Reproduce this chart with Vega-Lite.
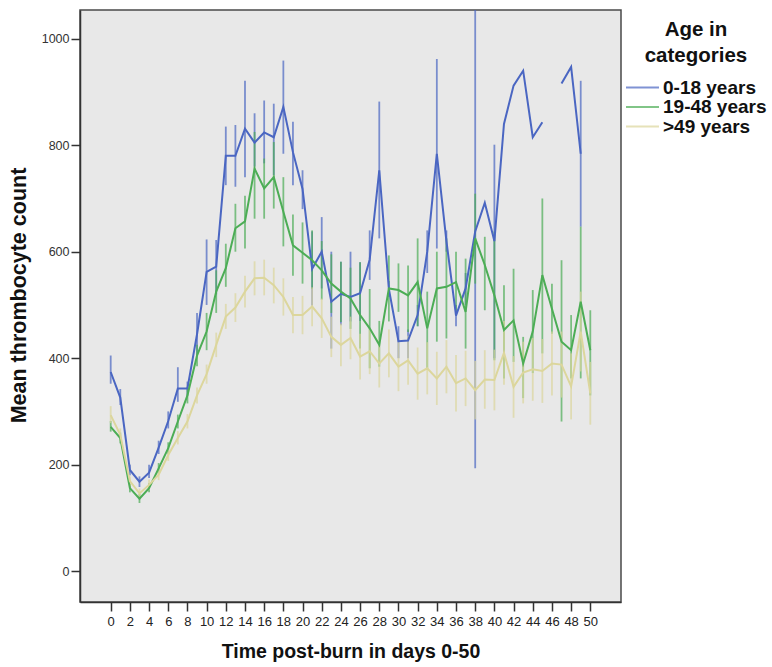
{
  "$schema": "https://vega.github.io/schema/vega-lite/v6.json",
  "autosize": {"type": "none"},
  "padding": {"left": 80, "top": 10, "right": 151, "bottom": 65},
  "width": 541,
  "height": 592,
  "background": "white",
  "config": {
    "font": "Liberation Sans",
    "view": {"fill": "#e8e8e8", "stroke": "#4a4a4a", "strokeWidth": 1.5},
    "axis": {"grid": false}
  },
  "data": {
    "values": [
      {"day": 0, "group": "0-18 years", "mean": 374, "lo": 352, "hi": 405},
      {"day": 1, "group": "0-18 years", "mean": 326, "lo": 312, "hi": 342},
      {"day": 2, "group": "0-18 years", "mean": 190, "lo": 180, "hi": 200},
      {"day": 3, "group": "0-18 years", "mean": 168, "lo": 158, "hi": 178},
      {"day": 4, "group": "0-18 years", "mean": 185, "lo": 175, "hi": 200},
      {"day": 5, "group": "0-18 years", "mean": 232, "lo": 220, "hi": 245},
      {"day": 6, "group": "0-18 years", "mean": 282, "lo": 268, "hi": 300},
      {"day": 7, "group": "0-18 years", "mean": 343, "lo": 318, "hi": 383},
      {"day": 8, "group": "0-18 years", "mean": 343, "lo": 330, "hi": 356},
      {"day": 9, "group": "0-18 years", "mean": 445, "lo": 405, "hi": 485},
      {"day": 10, "group": "0-18 years", "mean": 562, "lo": 500, "hi": 623},
      {"day": 11, "group": "0-18 years", "mean": 572, "lo": 520, "hi": 622},
      {"day": 12, "group": "0-18 years", "mean": 780, "lo": 725, "hi": 835},
      {"day": 13, "group": "0-18 years", "mean": 780, "lo": 722, "hi": 838},
      {"day": 14, "group": "0-18 years", "mean": 831, "lo": 740, "hi": 921},
      {"day": 15, "group": "0-18 years", "mean": 805, "lo": 760, "hi": 860},
      {"day": 16, "group": "0-18 years", "mean": 824, "lo": 766, "hi": 884},
      {"day": 17, "group": "0-18 years", "mean": 815, "lo": 744, "hi": 878},
      {"day": 18, "group": "0-18 years", "mean": 872, "lo": 784, "hi": 959},
      {"day": 19, "group": "0-18 years", "mean": 787, "lo": 725, "hi": 844},
      {"day": 20, "group": "0-18 years", "mean": 718, "lo": 680, "hi": 753},
      {"day": 21, "group": "0-18 years", "mean": 568, "lo": 499, "hi": 638},
      {"day": 22, "group": "0-18 years", "mean": 600, "lo": 531, "hi": 665},
      {"day": 23, "group": "0-18 years", "mean": 506, "lo": 418, "hi": 600},
      {"day": 24, "group": "0-18 years", "mean": 521, "lo": 462, "hi": 581},
      {"day": 25, "group": "0-18 years", "mean": 515, "lo": 469, "hi": 600},
      {"day": 26, "group": "0-18 years", "mean": 522, "lo": 470, "hi": 580},
      {"day": 27, "group": "0-18 years", "mean": 585, "lo": 547, "hi": 640},
      {"day": 28, "group": "0-18 years", "mean": 753, "lo": 625, "hi": 882},
      {"day": 29, "group": "0-18 years", "mean": 530, "lo": 515, "hi": 545},
      {"day": 30, "group": "0-18 years", "mean": 432, "lo": 400, "hi": 460},
      {"day": 31, "group": "0-18 years", "mean": 433, "lo": 400, "hi": 454},
      {"day": 32, "group": "0-18 years", "mean": 481, "lo": 460, "hi": 500},
      {"day": 33, "group": "0-18 years", "mean": 600, "lo": 560, "hi": 640},
      {"day": 34, "group": "0-18 years", "mean": 784, "lo": 606, "hi": 962},
      {"day": 35, "group": "0-18 years", "mean": 620, "lo": 600, "hi": 640},
      {"day": 36, "group": "0-18 years", "mean": 480, "lo": 460, "hi": 500},
      {"day": 37, "group": "0-18 years", "mean": 531, "lo": 500, "hi": 560},
      {"day": 38, "group": "0-18 years", "mean": 638, "lo": 193, "hi": 1100},
      {"day": 39, "group": "0-18 years", "mean": 692, "lo": null, "hi": null},
      {"day": 40, "group": "0-18 years", "mean": 620, "lo": 400, "hi": 801},
      {"day": 41, "group": "0-18 years", "mean": 840, "lo": null, "hi": null},
      {"day": 42, "group": "0-18 years", "mean": 912, "lo": null, "hi": null},
      {"day": 43, "group": "0-18 years", "mean": 940, "lo": null, "hi": null},
      {"day": 44, "group": "0-18 years", "mean": 815, "lo": null, "hi": null},
      {"day": 45, "group": "0-18 years", "mean": 843, "lo": null, "hi": null},
      {"day": 46, "group": "0-18 years", "mean": null, "lo": null, "hi": null},
      {"day": 47, "group": "0-18 years", "mean": 916, "lo": null, "hi": null},
      {"day": 48, "group": "0-18 years", "mean": 947, "lo": null, "hi": null},
      {"day": 49, "group": "0-18 years", "mean": 784, "lo": 647, "hi": 921},

      {"day": 0, "group": "19-48 years", "mean": 271, "lo": 262, "hi": 282},
      {"day": 1, "group": "19-48 years", "mean": 250, "lo": 240, "hi": 260},
      {"day": 2, "group": "19-48 years", "mean": 156, "lo": 148, "hi": 164},
      {"day": 3, "group": "19-48 years", "mean": 136, "lo": 128, "hi": 145},
      {"day": 4, "group": "19-48 years", "mean": 156, "lo": 148, "hi": 165},
      {"day": 5, "group": "19-48 years", "mean": 193, "lo": 183, "hi": 203},
      {"day": 6, "group": "19-48 years", "mean": 231, "lo": 220, "hi": 242},
      {"day": 7, "group": "19-48 years", "mean": 281, "lo": 268, "hi": 294},
      {"day": 8, "group": "19-48 years", "mean": 330, "lo": 315, "hi": 345},
      {"day": 9, "group": "19-48 years", "mean": 405, "lo": 385, "hi": 425},
      {"day": 10, "group": "19-48 years", "mean": 450, "lo": 415, "hi": 485},
      {"day": 11, "group": "19-48 years", "mean": 525, "lo": 485, "hi": 565},
      {"day": 12, "group": "19-48 years", "mean": 569, "lo": 534, "hi": 615},
      {"day": 13, "group": "19-48 years", "mean": 644, "lo": 600, "hi": 690},
      {"day": 14, "group": "19-48 years", "mean": 657, "lo": 606, "hi": 705},
      {"day": 15, "group": "19-48 years", "mean": 756, "lo": 662, "hi": 825},
      {"day": 16, "group": "19-48 years", "mean": 719, "lo": 662, "hi": 775},
      {"day": 17, "group": "19-48 years", "mean": 740, "lo": 681, "hi": 806},
      {"day": 18, "group": "19-48 years", "mean": 675, "lo": 610, "hi": 740},
      {"day": 19, "group": "19-48 years", "mean": 612, "lo": 555, "hi": 670},
      {"day": 20, "group": "19-48 years", "mean": 598, "lo": 540, "hi": 655},
      {"day": 21, "group": "19-48 years", "mean": 584, "lo": 530, "hi": 640},
      {"day": 22, "group": "19-48 years", "mean": 565, "lo": 510, "hi": 620},
      {"day": 23, "group": "19-48 years", "mean": 540, "lo": 485, "hi": 595},
      {"day": 24, "group": "19-48 years", "mean": 525, "lo": 468, "hi": 581},
      {"day": 25, "group": "19-48 years", "mean": 512, "lo": 455, "hi": 570},
      {"day": 26, "group": "19-48 years", "mean": 481, "lo": 418, "hi": 580},
      {"day": 27, "group": "19-48 years", "mean": 456, "lo": 381, "hi": 530},
      {"day": 28, "group": "19-48 years", "mean": 425, "lo": 384, "hi": 470},
      {"day": 29, "group": "19-48 years", "mean": 531, "lo": 469, "hi": 593},
      {"day": 30, "group": "19-48 years", "mean": 528, "lo": 487, "hi": 578},
      {"day": 31, "group": "19-48 years", "mean": 518, "lo": 449, "hi": 574},
      {"day": 32, "group": "19-48 years", "mean": 543, "lo": 460, "hi": 625},
      {"day": 33, "group": "19-48 years", "mean": 456, "lo": 378, "hi": 525},
      {"day": 34, "group": "19-48 years", "mean": 531, "lo": 431, "hi": 600},
      {"day": 35, "group": "19-48 years", "mean": 534, "lo": 437, "hi": 625},
      {"day": 36, "group": "19-48 years", "mean": 543, "lo": 481, "hi": 600},
      {"day": 37, "group": "19-48 years", "mean": 487, "lo": 418, "hi": 587},
      {"day": 38, "group": "19-48 years", "mean": 625, "lo": 540, "hi": 709},
      {"day": 39, "group": "19-48 years", "mean": 575, "lo": 490, "hi": 628},
      {"day": 40, "group": "19-48 years", "mean": 518, "lo": 396, "hi": 638},
      {"day": 41, "group": "19-48 years", "mean": 453, "lo": 362, "hi": 537},
      {"day": 42, "group": "19-48 years", "mean": 471, "lo": 393, "hi": 568},
      {"day": 43, "group": "19-48 years", "mean": 390, "lo": 325, "hi": 440},
      {"day": 44, "group": "19-48 years", "mean": 450, "lo": 372, "hi": 528},
      {"day": 45, "group": "19-48 years", "mean": 556, "lo": 409, "hi": 700},
      {"day": 46, "group": "19-48 years", "mean": 493, "lo": 446, "hi": 540},
      {"day": 47, "group": "19-48 years", "mean": 431, "lo": 281, "hi": 584},
      {"day": 48, "group": "19-48 years", "mean": 415, "lo": 362, "hi": 481},
      {"day": 49, "group": "19-48 years", "mean": 506, "lo": 362, "hi": 647},
      {"day": 50, "group": "19-48 years", "mean": 415, "lo": 330, "hi": 490},

      {"day": 0, "group": ">49 years", "mean": 293, "lo": 278, "hi": 310},
      {"day": 1, "group": ">49 years", "mean": 256, "lo": 245, "hi": 268},
      {"day": 2, "group": ">49 years", "mean": 169, "lo": 160, "hi": 178},
      {"day": 3, "group": ">49 years", "mean": 146, "lo": 138, "hi": 155},
      {"day": 4, "group": ">49 years", "mean": 162, "lo": 153, "hi": 172},
      {"day": 5, "group": ">49 years", "mean": 181, "lo": 171, "hi": 192},
      {"day": 6, "group": ">49 years", "mean": 218, "lo": 207, "hi": 230},
      {"day": 7, "group": ">49 years", "mean": 250, "lo": 238, "hi": 263},
      {"day": 8, "group": ">49 years", "mean": 281, "lo": 268, "hi": 295},
      {"day": 9, "group": ">49 years", "mean": 330, "lo": 315, "hi": 345},
      {"day": 10, "group": ">49 years", "mean": 370, "lo": 352, "hi": 388},
      {"day": 11, "group": ">49 years", "mean": 425, "lo": 402, "hi": 448},
      {"day": 12, "group": ">49 years", "mean": 478, "lo": 455, "hi": 502},
      {"day": 13, "group": ">49 years", "mean": 495, "lo": 468, "hi": 522},
      {"day": 14, "group": ">49 years", "mean": 525, "lo": 495, "hi": 555},
      {"day": 15, "group": ">49 years", "mean": 550, "lo": 518, "hi": 582},
      {"day": 16, "group": ">49 years", "mean": 551, "lo": 518, "hi": 585},
      {"day": 17, "group": ">49 years", "mean": 537, "lo": 503, "hi": 570},
      {"day": 18, "group": ">49 years", "mean": 515, "lo": 480, "hi": 550},
      {"day": 19, "group": ">49 years", "mean": 481, "lo": 447, "hi": 515},
      {"day": 20, "group": ">49 years", "mean": 481, "lo": 445, "hi": 517},
      {"day": 21, "group": ">49 years", "mean": 497, "lo": 460, "hi": 533},
      {"day": 22, "group": ">49 years", "mean": 475, "lo": 438, "hi": 512},
      {"day": 23, "group": ">49 years", "mean": 440, "lo": 402, "hi": 478},
      {"day": 24, "group": ">49 years", "mean": 425, "lo": 385, "hi": 465},
      {"day": 25, "group": ">49 years", "mean": 438, "lo": 398, "hi": 478},
      {"day": 26, "group": ">49 years", "mean": 403, "lo": 360, "hi": 446},
      {"day": 27, "group": ">49 years", "mean": 413, "lo": 370, "hi": 456},
      {"day": 28, "group": ">49 years", "mean": 390, "lo": 345, "hi": 435},
      {"day": 29, "group": ">49 years", "mean": 409, "lo": 364, "hi": 454},
      {"day": 30, "group": ">49 years", "mean": 384, "lo": 338, "hi": 430},
      {"day": 31, "group": ">49 years", "mean": 396, "lo": 350, "hi": 442},
      {"day": 32, "group": ">49 years", "mean": 371, "lo": 322, "hi": 420},
      {"day": 33, "group": ">49 years", "mean": 381, "lo": 332, "hi": 430},
      {"day": 34, "group": ">49 years", "mean": 362, "lo": 312, "hi": 412},
      {"day": 35, "group": ">49 years", "mean": 384, "lo": 334, "hi": 434},
      {"day": 36, "group": ">49 years", "mean": 353, "lo": 300, "hi": 406},
      {"day": 37, "group": ">49 years", "mean": 362, "lo": 310, "hi": 414},
      {"day": 38, "group": ">49 years", "mean": 340, "lo": 285, "hi": 395},
      {"day": 39, "group": ">49 years", "mean": 360, "lo": 305, "hi": 415},
      {"day": 40, "group": ">49 years", "mean": 359, "lo": 302, "hi": 416},
      {"day": 41, "group": ">49 years", "mean": 410, "lo": 350, "hi": 470},
      {"day": 42, "group": ">49 years", "mean": 346, "lo": 288, "hi": 404},
      {"day": 43, "group": ">49 years", "mean": 373, "lo": 315, "hi": 431},
      {"day": 44, "group": ">49 years", "mean": 379, "lo": 320, "hi": 438},
      {"day": 45, "group": ">49 years", "mean": 376, "lo": 316, "hi": 436},
      {"day": 46, "group": ">49 years", "mean": 390, "lo": 330, "hi": 450},
      {"day": 47, "group": ">49 years", "mean": 388, "lo": 326, "hi": 450},
      {"day": 48, "group": ">49 years", "mean": 347, "lo": 285, "hi": 409},
      {"day": 49, "group": ">49 years", "mean": 450, "lo": 375, "hi": 525},
      {"day": 50, "group": ">49 years", "mean": 334, "lo": 275, "hi": 393}
    ]
  },
  "encoding": {
    "x": {
      "field": "day",
      "type": "quantitative",
      "scale": {"domain": [-3.2, 53.2], "nice": false, "zero": false},
      "axis": {
        "values": [0, 2, 4, 6, 8, 10, 12, 14, 16, 18, 20, 22, 24, 26, 28, 30, 32, 34, 36, 38, 40, 42, 44, 46, 48, 50],
        "format": "d",
        "title": "Time post-burn in days 0-50",
        "titleFont": "Liberation Sans",
        "titleFontSize": 19.5,
        "titleFontWeight": "bold",
        "titleColor": "#111111",
        "titlePadding": 14,
        "labelFont": "Liberation Sans",
        "labelFontSize": 13,
        "labelColor": "#222222",
        "labelOverlap": false,
        "labelFlush": false,
        "labelPadding": 4,
        "tickSize": 9,
        "tickWidth": 1.5,
        "tickColor": "#333333",
        "domainColor": "#333333",
        "domainWidth": 1.5,
        "grid": false
      }
    },
    "color": {
      "field": "group",
      "type": "nominal",
      "scale": {
        "domain": ["0-18 years", "19-48 years", ">49 years"],
        "range": ["#4a66c2", "#4cad55", "#dcd69c"]
      },
      "legend": {
        "orient": "none",
        "legendX": 545,
        "legendY": 10,
        "padding": 0,
        "title": ["Age in", "categories"],
        "titleFont": "Liberation Sans",
        "titleFontSize": 20.5,
        "titleFontWeight": "bold",
        "titleColor": "#111111",
        "titleAnchor": "middle",
        "titleAlign": "center",
        "titleLineHeight": 26,
        "titlePadding": 12,
        "labelFont": "Liberation Sans",
        "labelFontSize": 19,
        "labelFontWeight": "bold",
        "labelColor": "#111111",
        "labelOffset": 3,
        "symbolType": "stroke",
        "symbolSize": 1089,
        "symbolStrokeWidth": 1.8,
        "clipHeight": 18,
        "rowPadding": 0.5
      }
    }
  },
  "layer": [
    {
      "mark": {"type": "rule", "strokeWidth": 1.8, "opacity": 0.7, "clip": true},
      "encoding": {
        "y": {
          "field": "lo",
          "type": "quantitative",
          "scale": {"domain": [-58, 1054], "nice": false, "zero": false},
          "axis": {
            "values": [0, 200, 400, 600, 800, 1000],
            "format": "d",
            "title": "Mean thrombocyte count",
            "titleFont": "Liberation Sans",
            "titleFontSize": 21.5,
            "titleFontWeight": "bold",
            "titleColor": "#111111",
            "titlePadding": 11,
            "titleY": 285,
            "labelFont": "Liberation Sans",
            "labelFontSize": 12.5,
            "labelColor": "#333333",
            "labelPadding": 2,
            "tickSize": 9,
            "tickWidth": 1.5,
            "tickColor": "#333333",
            "domainColor": "#333333",
            "domainWidth": 1.5,
            "grid": false
          }
        },
        "y2": {"field": "hi"}
      }
    },
    {
      "mark": {"type": "line", "strokeWidth": 2, "invalid": "break-paths-filter-domains"},
      "encoding": {
        "y": {"field": "mean", "type": "quantitative"}
      }
    }
  ]
}
